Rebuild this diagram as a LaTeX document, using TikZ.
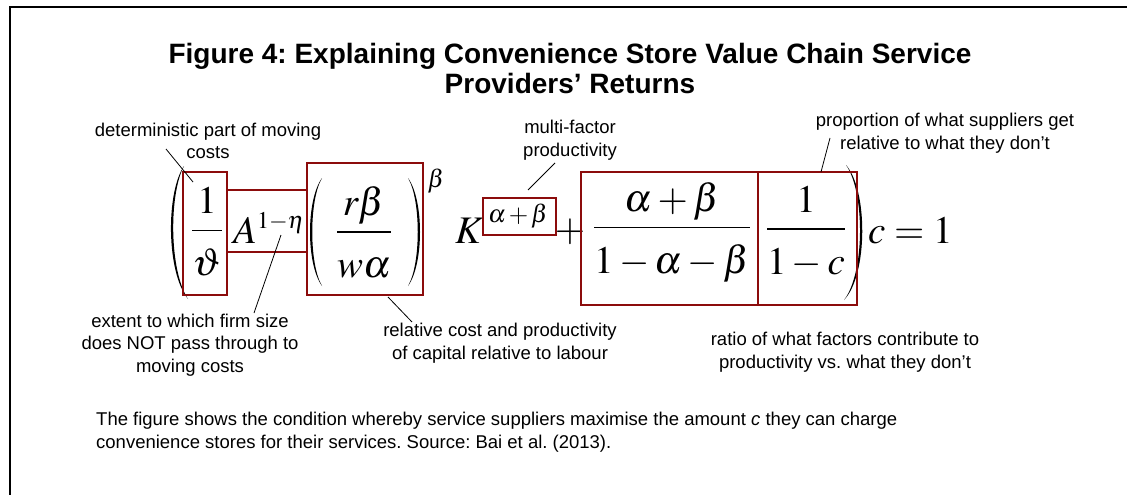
\documentclass[tikz,border=0pt]{standalone}
\usepackage{mathptmx}
\usepackage[no-math]{fontspec}
\setmainfont{Liberation Sans}
\usetikzlibrary{positioning, calc}
\definecolor{boxRed}{RGB}{140, 12, 12}
\newcommand{\lowden}[1]{\raisebox{-9pt}{$\displaystyle #1$}}
\tikzset{
    % Label Styles
    note/.style={font=\fontsize{18.5}{22.5}\selectfont, align=center, inner sep=0pt},
    headline/.style={font=\bfseries\fontsize{28}{30}\selectfont, align=center, inner sep=0pt},
    % Math Styles
    eqn/.style={font=\fontsize{39}{41}\selectfont, inner sep=0pt},
    eqnSup/.style={font=\fontsize{25}{27}\selectfont, inner sep=0pt},
    % Highlight Boxes & Leader Lines
    hlbox/.style={rectangle, draw=boxRed, line width=2pt, inner sep=0pt},
    leader/.style={draw=black, line width=0.8pt}
}

\begin{document}
\frenchspacing
\begin{tikzpicture}[x=1pt, y=-1pt]
    \useasboundingbox (0,0) rectangle (1127,495);

    % --- Frame ---
    \draw[line width=2pt] (10,495) -- (10,7) -- (1127,7);

    % --- Title ---
    \node[headline] (title) at (570,68) {Figure 4: Explaining Convenience Store Value Chain Service\\Providers' Returns};

    % --- Equation ---
    \fill (184,166) .. controls (166,192) and (166,272) .. (188,299) .. controls (169,270) and (169,194) .. cycle; % big (
    \node[eqn] (fracTheta) at (207,232) {$\displaystyle\frac{1}{\lowden{\vartheta}}$};
    \node[eqn, anchor=base west] (termA) at (233,243) {$A^{\mbox{\fontsize{24}{26}\selectfont$1{-}\eta$}}$};
    \fill (322,178) .. controls (306,200) and (306,264) .. (322,286) .. controls (309,264) and (309,200) .. cycle; % inner (
    \node[eqn] (fracRatio) at (364,232) {$\displaystyle\frac{r\beta}{\lowden{w\alpha}}$};
    \fill (408,178) .. controls (424,200) and (424,264) .. (408,286) .. controls (421,264) and (421,200) .. cycle; % inner )
    \node[eqnSup] (supBeta) at (436,181) {$\beta$};
    \node[eqn, anchor=base west] (termK) at (455,243) {$K$};
    \node[eqnSup] (supSum) at (518,216) {$\alpha\,{+}\,\beta$};
    \node[eqn] (plus) at (570,232) {$+$};
    \node[eqn] (fracShare) at (672,232) {$\displaystyle\frac{\alpha+\beta}{\lowden{1-\alpha-\beta}}$};
    \node[eqn] (fracC) at (806,232) {$\displaystyle\frac{1}{\lowden{1-c}}$};
    \fill (846,165) .. controls (868,190) and (868,275) .. (844,300) .. controls (865,273) and (865,192) .. cycle; % big )
    \node[eqn, anchor=base west] (termC) at (868,243) {$c=1$};

    % --- Highlight boxes ---
    \node[hlbox, minimum width=44pt, minimum height=123pt] (boxTheta) at (205,233.5) {};
    \node[hlbox, minimum width=80pt, minimum height=62pt] (boxA) at (267,221) {};
    \node[hlbox, minimum width=116pt, minimum height=132pt] (boxRatio) at (365,229) {};
    \node[hlbox, minimum width=73pt, minimum height=37pt] (boxSum) at (519.5,216.5) {};
    \node[hlbox, minimum width=177pt, minimum height=133pt] (boxShare) at (669.5,238.5) {};
    \node[hlbox, minimum width=99pt, minimum height=133pt] (boxC) at (807.5,238.5) {};

    % --- Annotations ---
    \node[note] (noteDet) at (208,141) {deterministic part of moving\\costs};
    \node[note] (noteMfp) at (570,140) {multi-factor\\productivity};
    \node[note] (noteProp) at (945,133) {proportion of what suppliers get\\relative to what they don't};
    \node[note] (noteExt) at (190,345) {extent to which firm size\\does NOT pass through to\\moving costs};
    \node[note] (noteRel) at (500,343) {relative cost and productivity\\of capital relative to labour};
    \node[note] (noteRatio) at (845,352) {ratio of what factors contribute to\\productivity vs. what they don't};
    \node[note, align=left, anchor=west] (caption) at (96,432) {The figure shows the condition whereby service suppliers maximise the amount \textit{c} they can charge\\convenience stores for their services. Source: Bai et al. (2013).};

    % --- Leader lines ---
    \coordinate (detFoot) at (166,149);
    \coordinate (detTip) at (193,182);
    \coordinate (extTop) at (281,235);
    \coordinate (extFoot) at (254,313);
    \coordinate (relTop) at (388,297);
    \coordinate (relFoot) at (412,322);
    \coordinate (mfpFoot) at (555,163);
    \coordinate (mfpTip) at (528,190);
    \coordinate (propFoot) at (830,138);
    \coordinate (propTip) at (821,172);
    \draw[leader] (detFoot) -- (detTip);
    \draw[leader] (extTop) -- (extFoot);
    \draw[leader] (relTop) -- (relFoot);
    \draw[leader] (mfpFoot) -- (mfpTip);
    \draw[leader] (propFoot) -- (propTip);

\end{tikzpicture}
\end{document}
